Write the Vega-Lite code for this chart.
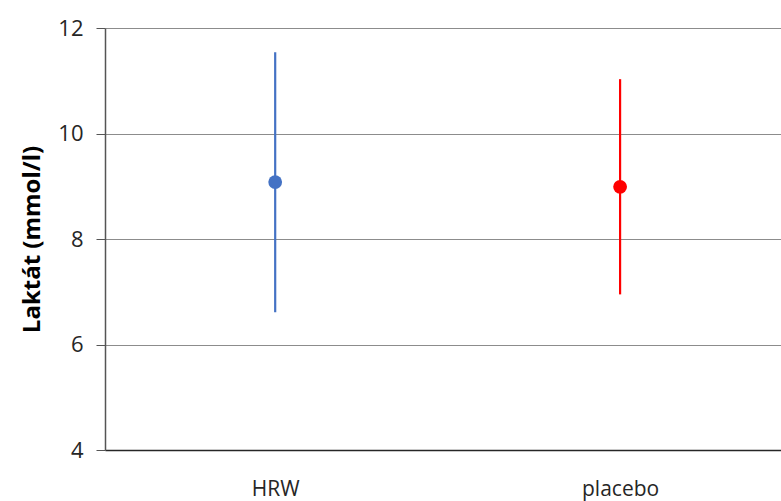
{
  "$schema": "https://vega.github.io/schema/vega-lite/v6.json",
  "width": 676,
  "height": 422,
  "autosize": {"type": "none"},
  "padding": {"left": 105, "top": 28, "right": 0, "bottom": 51},
  "background": "white",
  "config": {
    "view": {"stroke": null},
    "font": "Open Sans"
  },
  "data": {
    "values": [
      {"skupina": "HRW", "prumer": 9.08, "dolni": 6.61, "horni": 11.54},
      {"skupina": "placebo", "prumer": 8.99, "dolni": 6.95, "horni": 11.03}
    ]
  },
  "encoding": {
    "x": {
      "field": "skupina",
      "type": "nominal",
      "sort": ["HRW", "placebo"],
      "scale": {"type": "point", "padding": 0.48, "align": 0.514},
      "axis": {
        "title": null,
        "labelAngle": 0,
        "labelFontSize": 21,
        "labelColor": "#262626",
        "labelBaseline": "alphabetic",
        "labelPadding": 45,
        "ticks": false,
        "grid": false,
        "domainColor": "#262626",
        "domainWidth": 1.5
      }
    },
    "color": {
      "field": "skupina",
      "type": "nominal",
      "scale": {"domain": ["HRW", "placebo"], "range": ["#4472C4", "#FF0000"]},
      "legend": null
    }
  },
  "layer": [
    {
      "mark": {"type": "rule", "strokeWidth": 2.2},
      "encoding": {
        "y": {
          "field": "dolni",
          "type": "quantitative",
          "scale": {"domain": [4, 12], "nice": false, "zero": false},
          "axis": {
            "title": "Laktát (mmol/l)",
            "titleFontSize": 24,
            "titleFontWeight": "bold",
            "titleColor": "#000000",
            "titlePadding": 13,
            "values": [4, 6, 8, 10, 12],
            "labelFontSize": 22,
            "labelColor": "#262626",
            "labelPadding": 13,
            "tickSize": 9,
            "tickColor": "#555555",
            "domainColor": "#555555",
            "domainWidth": 1.5,
            "gridColor": "#8c8c8c",
            "gridWidth": 1
          }
        },
        "y2": {"field": "horni"}
      }
    },
    {
      "mark": {"type": "point", "filled": true, "opacity": 1, "size": 190},
      "encoding": {
        "y": {"field": "prumer", "type": "quantitative"}
      }
    }
  ]
}
